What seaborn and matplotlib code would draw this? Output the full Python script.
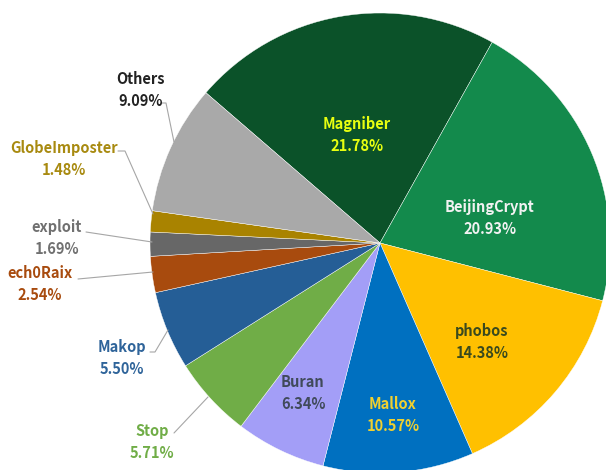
import matplotlib
matplotlib.use("Agg")
import matplotlib.pyplot as plt
import seaborn as sns
import numpy as np

# Ransomware family shares (%)
families = ["Magniber", "BeijingCrypt", "phobos", "Mallox", "Buran", "Stop",
            "Makop", "ech0Raix", "exploit", "GlobeImposter", "Others"]
shares = [21.78, 20.93, 14.38, 10.57, 6.34, 5.71, 5.50, 2.54, 1.69, 1.48, 9.09]
pct_labels = ["21.78%", "20.93%", "14.38%", "10.57%", "6.34%", "5.71%",
              "5.50%", "2.54%", "1.69%", "1.48%", "9.09%"]

wedge_colors = ["#0B5229", "#138A4C", "#FFC000", "#0070C0", "#A39EF7", "#70AD47",
                "#255E96", "#A84B0E", "#676767", "#A98300", "#A9A9A9"]
text_colors = ["#E8FF10", "#F2F2F2", "#3A4A1E", "#F0D030", "#404A5A", "#70AD47",
               "#2F649A", "#A84B0E", "#707070", "#A88A10", "#222222"]

sns.set_theme(style="white")
plt.rcParams["font.family"] = ["Noto Sans CJK SC", "DejaVu Sans"]

W, H = 606, 470
fig = plt.figure(figsize=(W / 100, H / 100), dpi=100)
ax = fig.add_axes([0, 0, 1, 1])

palette = sns.color_palette(wedge_colors)
wedges, _ = ax.pie(shares, colors=palette, startangle=139.2, counterclock=False,
                   radius=1.0, wedgeprops=dict(edgecolor="white", linewidth=0.3))

# pixel frame: pie centre at (380, 243) px, radius 230 px
cx, cy, rpx = 380, 243, 230
ax.set_xlim(-cx / rpx, (W - cx) / rpx)
ax.set_ylim(-(H - cy) / rpx, cy / rpx)
ax.set_aspect("equal")
ax.axis("off")

def px(x, y):
    return ((x - cx) / rpx, (cy - y) / rpx)

# label centres (px) and leader-line paths for the small slices
label_pos = {
    0: (357, 135), 1: (490, 218), 2: (482, 342), 3: (393, 415), 4: (303, 393),
    5: (152, 442), 6: (122, 358), 7: (40, 284), 8: (57, 238), 9: (64, 159),
    10: (141, 90),
}
leaders = {
    5: [(174, 433), (208, 397)],
    6: [(150, 352), (155, 352), (168, 330)],
    7: [(78, 279), (153, 272)],
    8: [(86, 232), (152, 242)],
    9: [(118, 151), (125, 151), (153, 214)],
    10: [(161, 103), (166, 103), (174, 142)],
}
for i, (tx, ty) in label_pos.items():
    x, y = px(tx, ty)
    ax.text(x, y, f"{families[i]}\n{pct_labels[i]}", ha="center", va="center",
            fontsize=10.5, color=text_colors[i], fontweight="bold",
            linespacing=1.5)
for i, path in leaders.items():
    pts = np.array([px(a, b) for a, b in path])
    ax.plot(pts[:, 0], pts[:, 1], color="#A6A6A6", linewidth=0.8)

fig.savefig("out.png", dpi=100, facecolor="white")
